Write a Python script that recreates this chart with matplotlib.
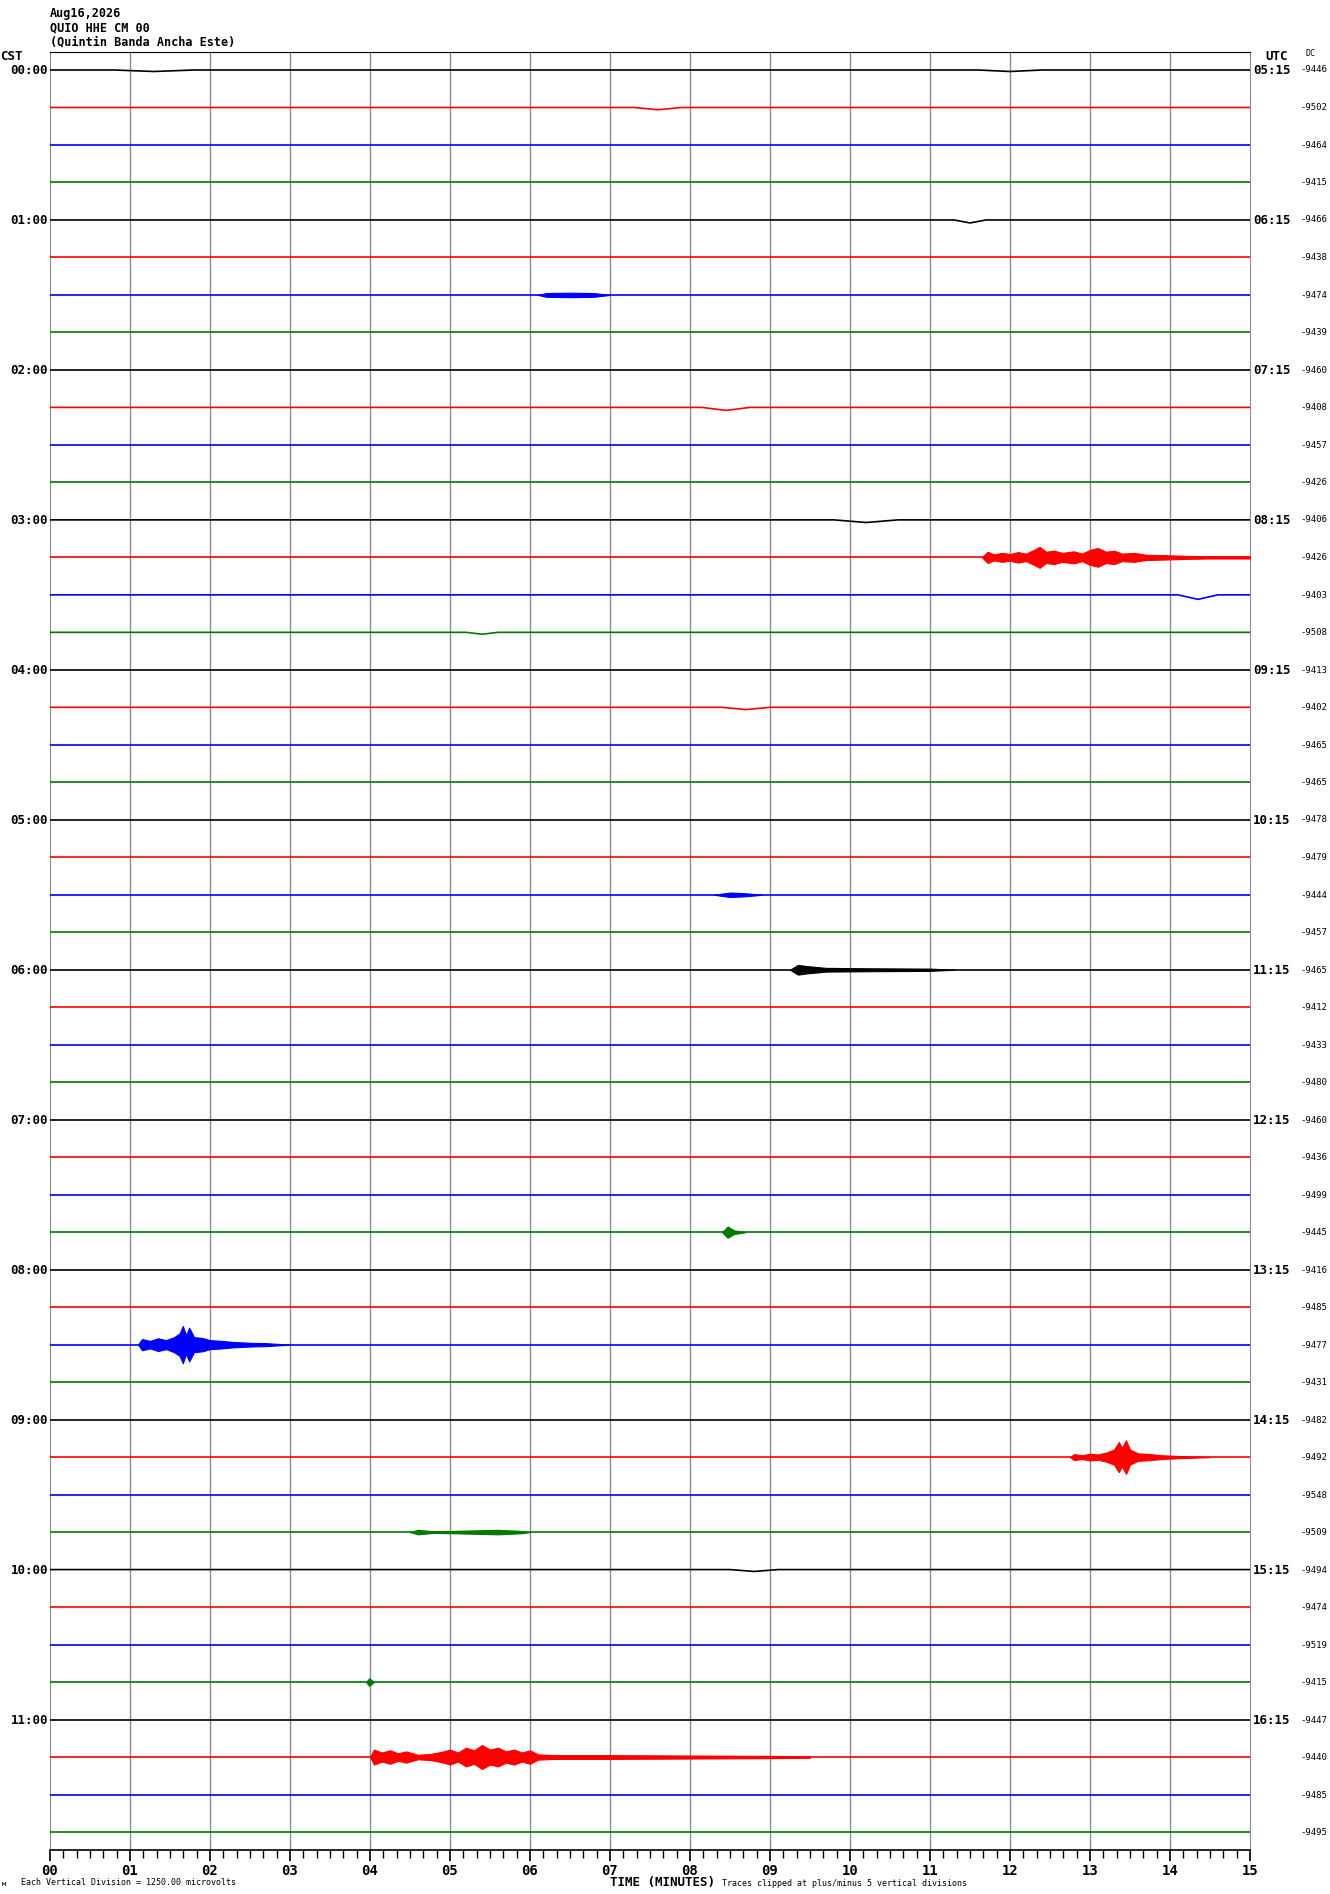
import numpy as np
import matplotlib
matplotlib.use("Agg")
import matplotlib.pyplot as plt

# ---- data ----
TRACE_COLORS = ["black", "red", "blue", "#007a00"]
N_TRACES = 48

CST_LABELS = ["%02d:00" % h for h in range(12)]
UTC_LABELS = ["%02d:15" % h for h in range(5, 17)]

DC_VALUES = [-9446, -9502, -9464, -9415, -9466, -9438, -9474, -9439,
             -9460, -9408, -9457, -9426, -9406, -9426, -9403, -9508,
             -9413, -9402, -9465, -9465, -9478, -9479, -9444, -9457,
             -9465, -9412, -9433, -9480, -9460, -9436, -9499, -9445,
             -9416, -9485, -9477, -9431, -9482, -9492, -9548, -9509,
             -9494, -9474, -9519, -9415, -9447, -9440, -9485, -9495]

# slow baseline bumps: trace, centre (min), half width (min), offset (divisions)
WOBBLE_TRACE = [0, 0, 1, 4, 9, 12, 14, 15, 17, 40]
WOBBLE_T = [1.3, 12.0, 7.6, 11.5, 8.45, 10.2, 14.35, 5.4, 8.7, 8.8]
WOBBLE_W = [0.5, 0.4, 0.3, 0.2, 0.3, 0.4, 0.25, 0.2, 0.3, 0.3]
WOBBLE_D = [-0.04, -0.04, -0.06, -0.08, -0.08, -0.07, -0.12, -0.05, -0.06, -0.05]

# events: trace, envelope times (min), envelope half amplitude (divisions)
EVENT_TRACE = [6, 13, 22, 24, 31, 34, 37, 39, 43, 45]
EVENT_T = [
    [6.1, 6.2, 6.5, 6.8, 7.0],
    [11.65, 11.72, 11.8, 11.9, 12.0, 12.1, 12.2, 12.3, 12.37, 12.45, 12.55, 12.65, 12.8,
     12.9, 13.0, 13.1, 13.2, 13.3, 13.4, 13.55, 13.7, 13.9, 14.2, 14.5, 15.0],
    [8.3, 8.5, 8.7, 8.9],
    [9.25, 9.35, 9.45, 9.7, 10.2, 11.0, 11.3],
    [8.4, 8.47, 8.55, 8.7],
    [1.1, 1.15, 1.25, 1.35, 1.45, 1.55, 1.62, 1.66, 1.7, 1.74, 1.8, 1.9, 2.0, 2.15, 2.3,
     2.5, 2.7, 3.0],
    [12.75, 12.8, 12.9, 13.0, 13.1, 13.2, 13.3, 13.36, 13.4, 13.45, 13.5, 13.6, 13.75,
     13.9, 14.1, 14.5],
    [4.5, 4.6, 4.8, 5.2, 5.6, 5.9, 6.0],
    [3.95, 3.99, 4.05],
    [4.0, 4.05, 4.15, 4.25, 4.35, 4.45, 4.6, 4.75, 4.9, 5.0, 5.1, 5.2, 5.3, 5.4, 5.5, 5.6,
     5.7, 5.8, 5.9, 6.0, 6.1, 6.3, 7.0, 8.0, 9.0, 9.5],
]
EVENT_A = [
    [0, 0.05, 0.06, 0.05, 0],
    [0, 0.15, 0.08, 0.12, 0.09, 0.14, 0.1, 0.2, 0.28, 0.15, 0.18, 0.12, 0.16, 0.1, 0.2,
     0.25, 0.15, 0.18, 0.1, 0.12, 0.07, 0.06, 0.04, 0.03, 0.03],
    [0, 0.06, 0.04, 0],
    [0, 0.13, 0.1, 0.05, 0.04, 0.03, 0],
    [0, 0.15, 0.05, 0],
    [0, 0.15, 0.1, 0.17, 0.12, 0.2, 0.3, 0.5, 0.25, 0.45, 0.2, 0.18, 0.12, 0.1, 0.07,
     0.05, 0.04, 0],
    [0, 0.08, 0.05, 0.09, 0.07, 0.12, 0.2, 0.4, 0.25, 0.45, 0.2, 0.1, 0.08, 0.05, 0.03, 0],
    [0, 0.06, 0.02, 0.04, 0.06, 0.03, 0],
    [0, 0.1, 0],
    [0, 0.2, 0.12, 0.18, 0.1, 0.15, 0.06, 0.08, 0.14, 0.2, 0.12, 0.25, 0.18, 0.32, 0.2,
     0.25, 0.15, 0.2, 0.12, 0.18, 0.07, 0.05, 0.05, 0.04, 0.03, 0.02],
]

W, H = 1330, 1894
X0, X1 = 50, 1250
Y_TOP, Y_BOT = 52, 1850
Y_FIRST, SPACING = 70, 37.5


def fx(x):
    return x / W


def fy(y):
    return 1 - y / H


fig = plt.figure(figsize=(W / 100, H / 100), dpi=100)
ax = fig.add_axes([fx(X0), fy(Y_BOT), (X1 - X0) / W, (Y_BOT - Y_TOP) / H])
pad = (Y_FIRST - Y_TOP) / SPACING
ax.set_xlim(0, 15)
ax.set_ylim(-(N_TRACES - 1) - pad, pad)

ax.vlines(np.arange(1, 15), -(N_TRACES - 1) - pad, pad, color="#8c8c8c", lw=1.0, zorder=1)

for i in range(N_TRACES):
    c = TRACE_COLORS[i % 4]
    tt, yy = [0.0], [0.0]
    bumps = sorted((WOBBLE_T[k], WOBBLE_W[k], WOBBLE_D[k])
                   for k in range(len(WOBBLE_TRACE)) if WOBBLE_TRACE[k] == i)
    for t, w, d in bumps:
        tt += [t - w, t, t + w]
        yy += [0.0, d, 0.0]
    tt.append(15.0)
    yy.append(0.0)
    ax.plot(tt, -i + np.array(yy), color=c, lw=1.2, zorder=3)

for k, i in enumerate(EVENT_TRACE):
    c = TRACE_COLORS[i % 4]
    t = np.array(EVENT_T[k])
    a = np.array(EVENT_A[k])
    ax.fill_between(t, -i - a, -i + a, color=c, lw=0.8, zorder=4)

mono = "DejaVu Sans Mono"
ax.set_yticks([])
ax.set_xticks(np.arange(0, 16))
ax.set_xticks(np.arange(0, 15.01, 1 / 6), minor=True)
ax.set_xticklabels(["%02d" % m for m in range(16)], fontsize=10, fontweight="bold",
                   family=mono)
ax.tick_params(axis="x", which="major", length=8, width=1.2, pad=2)
ax.tick_params(axis="x", which="minor", length=6, width=1.0)
for s in ["left", "right"]:
    ax.spines[s].set_color("#8c8c8c")
ax.spines["top"].set_color("black")
ax.spines["bottom"].set_color("black")
ax.spines["bottom"].set_linewidth(1.2)

for j, line in enumerate(["Aug16,2026", "QUIO HHE CM 00", "(Quintin Banda Ancha Este)"]):
    fig.text(fx(X0), fy(13 + 14.5 * j), line, fontsize=8.5, fontweight="bold",
             family=mono, va="center", ha="left")

fig.text(fx(0), fy(56), "CST", fontsize=9, fontweight="bold", family=mono, va="center")
fig.text(fx(1265), fy(56), "UTC", fontsize=9, fontweight="bold", family=mono, va="center")
fig.text(fx(1306), fy(53), "DC", fontsize=6, family=mono, va="center")

for h, lab in enumerate(CST_LABELS):
    y = Y_FIRST + SPACING * 4 * h
    fig.text(fx(48), fy(y), lab, fontsize=9, fontweight="bold", family=mono,
             va="center", ha="right")
for h, lab in enumerate(UTC_LABELS):
    y = Y_FIRST + SPACING * 4 * h
    fig.text(fx(1253), fy(y), lab, fontsize=9, fontweight="bold", family=mono,
             va="center", ha="left")
for i, dc in enumerate(DC_VALUES):
    y = Y_FIRST + SPACING * i
    fig.text(fx(1300), fy(y), str(dc), fontsize=6.5, family=mono, va="center", ha="left")

fig.text(fx(663), fy(1882), "TIME (MINUTES)", fontsize=9, fontweight="bold", family=mono,
         va="center", ha="center")
fig.text(fx(722), fy(1883), "Traces clipped at plus/minus 5 vertical divisions",
         fontsize=6, family=mono, va="center", ha="left")
fig.text(fx(21), fy(1882), "Each Vertical Division = 1250.00 microvolts",
         fontsize=6, family=mono, va="center", ha="left")
fig.text(fx(2), fy(1884), "\u043c", fontsize=5, family=mono, va="center", ha="left")

fig.savefig("out.png", dpi=100)
